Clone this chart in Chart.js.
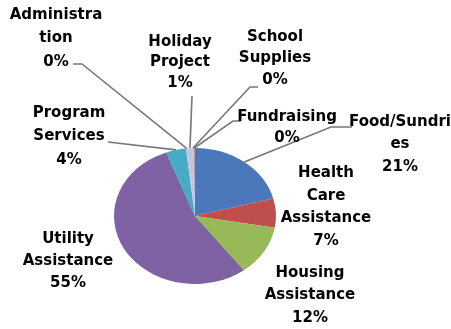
<!DOCTYPE html>
<html>
<head>
<meta charset="utf-8">
<script src="https://cdn.jsdelivr.net/npm/chart.js@4/dist/chart.umd.min.js"></script>
<style>
  html, body { margin: 0; padding: 0; background: #fff; }
  #wrap { width: 451px; height: 329px; position: relative; }
</style>
</head>
<body>
<div id="wrap"><canvas id="pie"></canvas></div>
<script>
/* ================= DATA ================= */
const categories = [
    "Food/Sundries", "Health Care Assistance", "Housing Assistance",
    "Utility Assistance", "Program Services", "Administration",
    "Holiday Project", "School Supplies", "Fundraising"
];
const shares = [21, 7, 12, 55, 4, 0.3, 1, 0.2, 0.3];
const labelLines = [
    ["Food/Sundri", "es"],
    ["Health", "Care", "Assistance"],
    ["Housing", "Assistance"],
    ["Utility", "Assistance"],
    ["Program", "Services"],
    ["Administra", "tion"],
    ["Holiday", "Project"],
    ["School", "Supplies"],
    ["Fundraising"]
];
const sliceColors = [
    "#4a78bb", "#bf4f4c", "#98b957", "#7e62a3", "#46abc4",
    "#c3b8dc", "#b9c6e4", "#e4a6aa", "#d98f9a"
];

/* ================= LABEL LAYOUT ================= */
// x = centre of text, y = first line, gap = line step, lead = leader points
const labelLayout = [
    { x: 400, y: 122, gap: 22.5, lead: [[352, 127], [331, 127]] },
    { x: 326, y: 173, gap: 22.7, lead: null },
    { x: 310, y: 273, gap: 22.5, lead: null },
    { x: 68,  y: 239, gap: 22,   lead: null },
    { x: 69,  y: 113, gap: 23.5, lead: [[108, 142]] },
    { x: 56,  y: 15,  gap: 23.5, lead: [[73, 64], [82, 64]] },
    { x: 180, y: 42,  gap: 20.5, lead: [[192, 96]] },
    { x: 275, y: 37,  gap: 21.5, lead: [[258, 87], [250, 87]] },
    { x: 287, y: 117, gap: 21,   lead: [[241, 121], [233, 121]] }
];

const squash = 68 / 81;

/* ================= PLUGINS ================= */
const ellipsePlugin = {
    id: "ellipse",
    beforeDatasetsDraw(chart) {
        const arc = chart.getDatasetMeta(0).data[0];
        const ctx = chart.ctx;
        ctx.save();
        ctx.translate(arc.x, arc.y);
        ctx.scale(1, squash);
        ctx.translate(-arc.x, -arc.y);
    },
    afterDatasetsDraw(chart) {
        chart.ctx.restore();
    }
};

const labelPlugin = {
    id: "sliceLabels",
    afterDraw(chart) {
        const ctx = chart.ctx;
        const arcs = chart.getDatasetMeta(0).data;
        const total = shares.reduce((a, b) => a + b, 0);

        // leader lines
        ctx.save();
        ctx.strokeStyle = "#777";
        ctx.lineWidth = 1.6;
        arcs.forEach((arc, i) => {
            const lay = labelLayout[i];
            if (!lay.lead) return;
            const mid = (arc.startAngle + arc.endAngle) / 2;
            const ex = arc.x + Math.cos(mid) * arc.outerRadius;
            const ey = arc.y + Math.sin(mid) * arc.outerRadius * squash;
            ctx.beginPath();
            ctx.moveTo(lay.lead[0][0], lay.lead[0][1]);
            lay.lead.slice(1).forEach(p => ctx.lineTo(p[0], p[1]));
            ctx.lineTo(ex, ey);
            ctx.stroke();
        });
        ctx.restore();

        // texts
        ctx.save();
        ctx.fillStyle = "#000";
        ctx.font = 'bold 15px "DejaVu Sans"';
        ctx.textAlign = "center";
        ctx.textBaseline = "middle";
        labelLines.forEach((lines, i) => {
            const lay = labelLayout[i];
            const pct = Math.round(shares[i] / total * 100) + "%";
            [...lines, pct].forEach((t, k) => {
                ctx.fillText(t, lay.x, lay.y + k * lay.gap);
            });
        });
        ctx.restore();
    }
};

/* ================= CHART ================= */
new Chart(document.getElementById("pie"), {
    type: "pie",
    data: {
        labels: categories,
        datasets: [{
            data: shares,
            backgroundColor: sliceColors,
            borderWidth: 0
        }]
    },
    options: {
        responsive: true,
        maintainAspectRatio: false,
        animation: false,
        layout: { padding: { left: 114, right: 175, top: 135, bottom: 32 } },
        plugins: {
            legend: { display: false },
            tooltip: { enabled: false }
        }
    },
    plugins: [ellipsePlugin, labelPlugin]
});
</script>
</body>
</html>
